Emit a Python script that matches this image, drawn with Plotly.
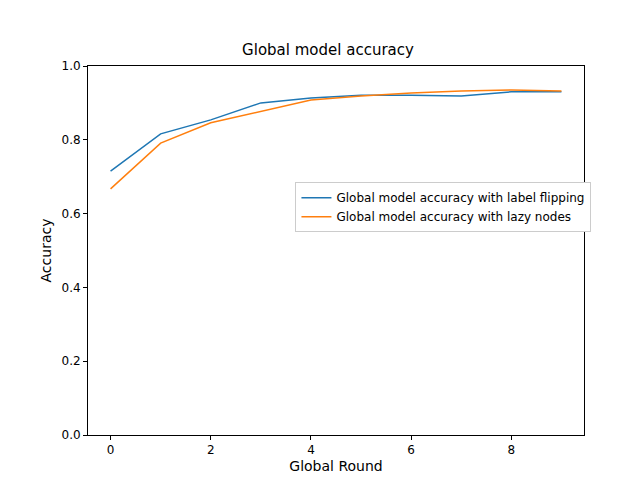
import plotly.graph_objects as go

rounds = list(range(10))
acc_label_flipping = [0.715, 0.816, 0.854, 0.900, 0.913, 0.921, 0.921, 0.919, 0.930, 0.930]
acc_lazy_nodes = [0.667, 0.791, 0.846, 0.878, 0.908, 0.919, 0.927, 0.932, 0.935, 0.932]

fig = go.Figure()
fig.add_trace(go.Scatter(x=rounds, y=acc_label_flipping, mode="lines",
                         name="Global model accuracy with label flipping",
                         line=dict(color="#1f77b4", width=1.5)))
fig.add_trace(go.Scatter(x=rounds, y=acc_lazy_nodes, mode="lines",
                         name="Global model accuracy with lazy nodes",
                         line=dict(color="#ff7f0e", width=1.5)))

axis_style = dict(showline=True, linecolor="black", mirror=True, ticks="outside",
                  ticklen=4, tickcolor="black", showgrid=False, zeroline=False,
                  automargin=False)
fig.update_xaxes(title_text="Global Round", title_standoff=4, range=[-0.45, 9.45], dtick=2, **axis_style)
fig.update_yaxes(title_text="Accuracy", title_standoff=6, range=[0, 1], dtick=0.2, tickformat=".1f", **axis_style)
fig.update_layout(
    width=640, height=480,
    title=dict(text="Global model accuracy", x=0.5, xanchor="center", y=0.925, font=dict(size=15)),
    font=dict(family="DejaVu Sans", size=12, color="black"),
    plot_bgcolor="white", paper_bgcolor="white",
    margin=dict(l=80, r=64, t=58, b=53, autoexpand=False),
    legend=dict(x=1.015, y=0.685, xanchor="right", yanchor="top",
                bordercolor="#cccccc", borderwidth=1, bgcolor="white"),
)
fig.write_html("out.html")
